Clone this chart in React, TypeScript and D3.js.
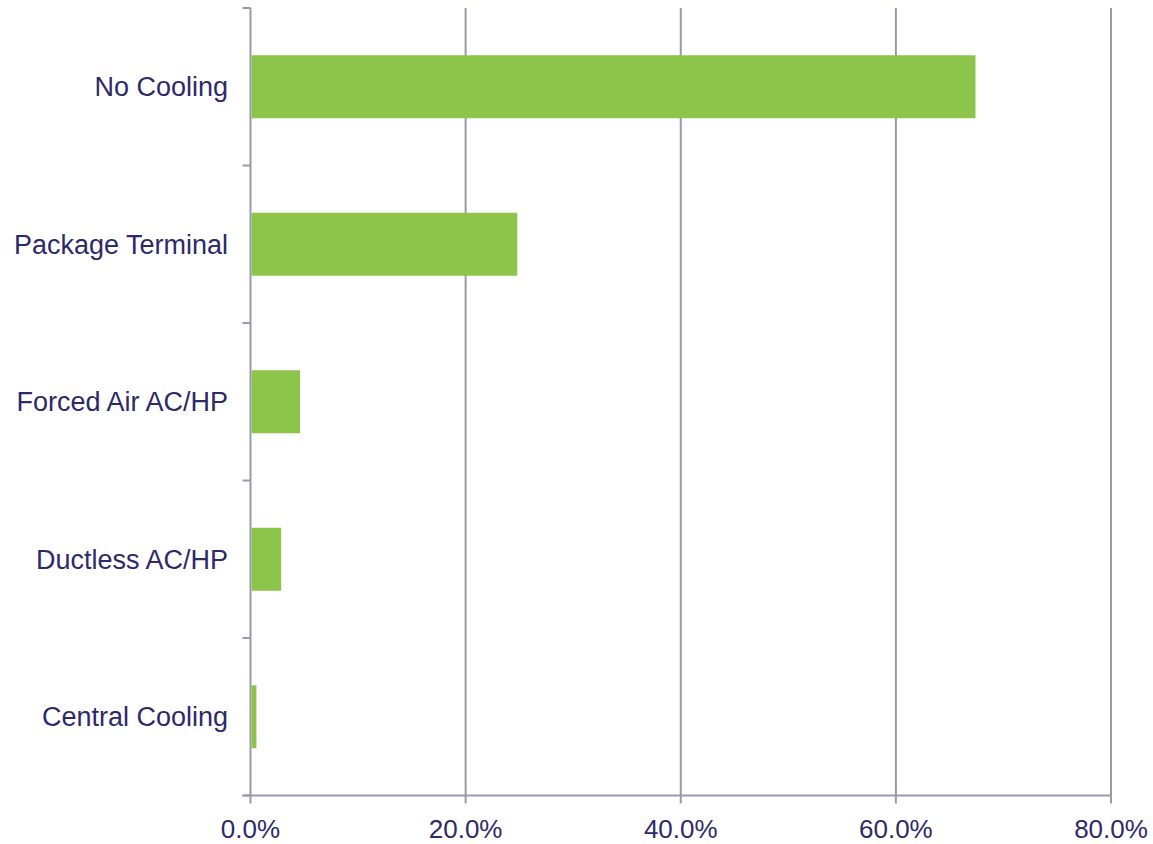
import React from "react";
import * as d3 from "d3";

const categories = ["No Cooling", "Package Terminal", "Forced Air AC/HP", "Ductless AC/HP", "Central Cooling"];
const values = [67.4, 24.8, 4.6, 2.85, 0.55];
const xTicks = [0, 20, 40, 60, 80];

const W = 1153, H = 844;
const left = 250.5, right = 1111, top = 8, bottom = 795.5;
const gridColor = "#9b98ab";
const textColor = "#2e2a69";
const barColor = "#8cc54a";
const font = "'Liberation Sans', Arial, sans-serif";

export default function App() {
  const x = d3.scaleLinear().domain([0, 80]).range([left, right]);
  const y = d3.scaleBand().domain(categories).range([top, bottom]).paddingInner(0.6).paddingOuter(0.3);
  const step = (bottom - top) / categories.length;
  const yTickPos = d3.range(categories.length + 1).map((i) => top + i * step);

  return (
    <svg width={W} height={H} style={{ position: "absolute", left: 0, top: 0, background: "#fff" }}>
      {xTicks.map((t) => (
        <line key={"g" + t} x1={x(t)} x2={x(t)} y1={top} y2={bottom + 8} stroke={gridColor} strokeWidth={2} />
      ))}
      <line x1={left - 8} x2={right} y1={bottom} y2={bottom} stroke={gridColor} strokeWidth={2} />
      {yTickPos.map((p, i) => (
        <line key={"yt" + i} x1={left - 8} x2={left} y1={p} y2={p} stroke={gridColor} strokeWidth={2} />
      ))}
      {categories.map((c, i) => (
        <rect key={c} x={x(0) + 1} y={y(c)} width={x(values[i]) - x(0) - 1} height={y.bandwidth()} fill={barColor} />
      ))}
      {categories.map((c) => (
        <text key={"l" + c} x={228} y={(y(c) as number) + y.bandwidth() / 2} dy="0.35em" textAnchor="end"
          fontFamily={font} fontSize={27} fill={textColor}>{c}</text>
      ))}
      {xTicks.map((t) => (
        <text key={"xl" + t} x={x(t)} y={838} textAnchor="middle" fontFamily={font} fontSize={26} fill={textColor}>
          {t.toFixed(1) + "%"}
        </text>
      ))}
    </svg>
  );
}
